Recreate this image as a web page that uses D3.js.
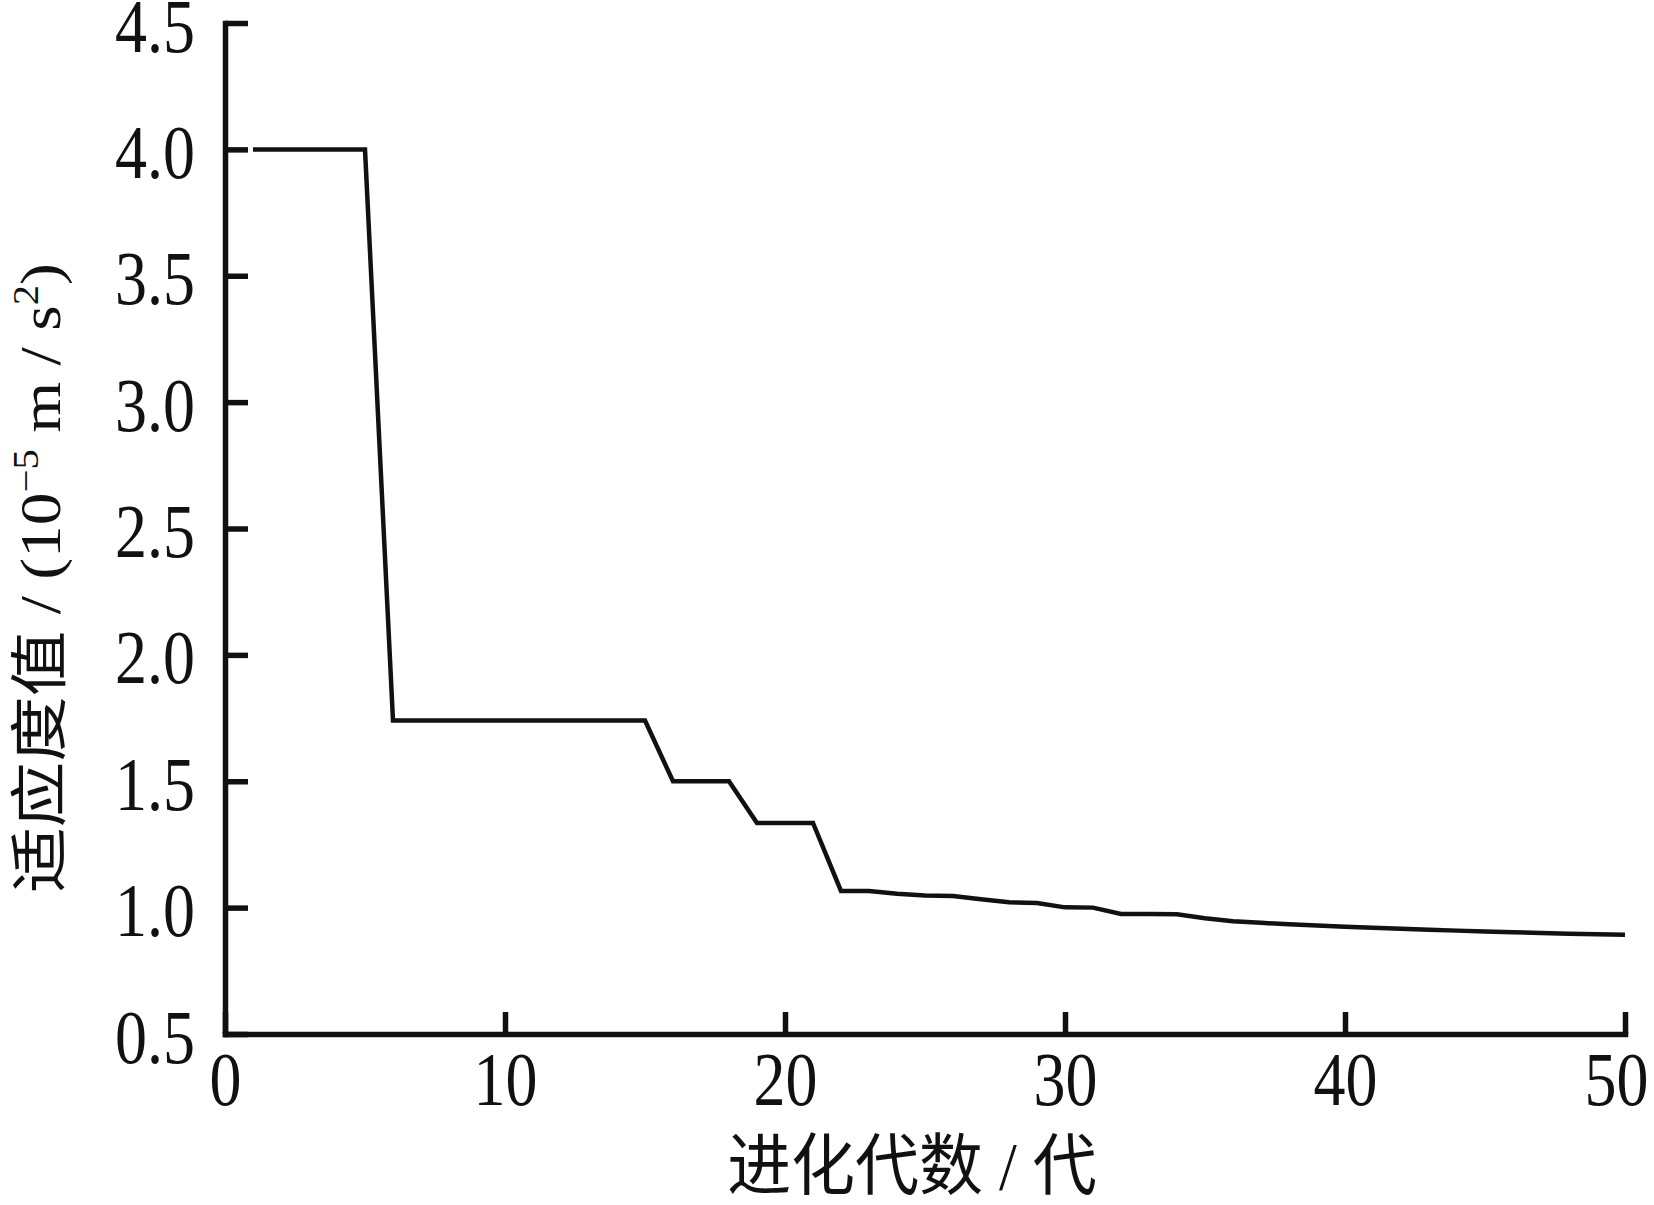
<!DOCTYPE html>
<html>
<head>
<meta charset="utf-8">
<script src="https://cdn.jsdelivr.net/npm/d3@7"></script>
<style>
  html, body { margin: 0; padding: 0; background: #fff; }
  svg { display: block; }
</style>
</head>
<body>
<svg id="chart" width="1654" height="1205"></svg>
<script>
// ---- data ----
const generations = [1,2,3,4,5,6,7,8,9,10,11,12,13,14,15,16,17,18,19,20,21,22,23,24,25,26,27,28,29,30,31,32,33,34,35,36,37,38,39,40,41,42,43,44,45,46,47,48,49,50];
const fitness = [4.0,4.0,4.0,4.0,4.0,
  1.74,1.74,1.74,1.74,1.74,1.74,1.74,1.74,1.74,1.74,
  1.50,1.50,1.50,
  1.335,1.335,1.335,
  1.066,1.066,1.055,1.048,1.046,1.033,1.021,1.018,1.001,1.0,
  0.975,0.975,0.974,0.958,0.946,0.94,0.934,0.929,0.924,0.92,
  0.916,0.912,0.909,0.906,0.903,0.9,0.897,0.895,0.893];
const xTicks = [0,10,20,30,40,50];
const yTicks = [0.5,1.0,1.5,2.0,2.5,3.0,3.5,4.0,4.5];
const xTitle = "进化代数 / 代";
const yTitleMain = "适应度值 / (10";
const yTitleExp1 = "−5";
const yTitleMid = " m / s";
const yTitleExp2 = "2";
const yTitleEnd = ")";

// ---- layout ----
(function () {
const svg = d3.select("#chart");
const plotL = 225, plotR = 1625, plotT = 23, plotB = 1034;
const x = d3.scaleLinear().domain([0, 50]).range([plotL, plotR]);
const y = d3.scaleLinear().domain([0.5, 4.5]).range([plotB, plotT]);
const serif = "'Liberation Serif','Times New Roman',serif";
const ink = "#111";
const stretch = 1.18; // glyphs in the reference are taller than wide

// data line
const line = d3.line().x((d, i) => x(generations[i])).y(d => y(d));
svg.append("path")
  .datum(fitness)
  .attr("d", line)
  .attr("fill", "none")
  .attr("stroke", ink)
  .attr("stroke-width", 4.5)
  .attr("stroke-linejoin", "miter");

// y axis
const gy = svg.append("g")
  .attr("transform", `translate(${plotL},0)`)
  .call(d3.axisLeft(y).tickValues(yTicks).tickFormat(d3.format(".1f"))
    .tickSizeInner(-23).tickSizeOuter(0).tickPadding(30));
// x axis
const gx = svg.append("g")
  .attr("transform", `translate(0,${plotB})`)
  .call(d3.axisBottom(x).tickValues(xTicks).tickFormat(d3.format("d"))
    .tickSizeInner(-22).tickSizeOuter(0).tickPadding(25));

[gy, gx].forEach(g => {
  g.select(".domain").attr("stroke", ink).attr("stroke-width", 5.5).attr("stroke-linecap", "square");
  g.selectAll(".tick line").attr("stroke", ink).attr("stroke-width", 5.5);
  g.selectAll(".tick text").attr("fill", ink)
    .style("font-family", serif).style("font-size", "64px")
    .attr("transform", `scale(1,${stretch})`);
});
gy.selectAll(".tick text").attr("dy", 28 / stretch);
gx.selectAll(".tick text").attr("y", 71 / stretch).attr("dy", 0)
  .attr("x", d => d === 50 ? -9 : 0);

// x title
svg.append("text")
  .attr("transform", "translate(912,1189) scale(1,1.05)")
  .attr("text-anchor", "middle")
  .style("font-family", "'Liberation Serif','Noto Sans CJK SC',serif")
  .style("font-size", "64px")
  .attr("fill", ink)
  .text(xTitle);

// y title
const yt = svg.append("text")
  .attr("transform", "translate(60,578) rotate(-90) scale(1.13,1)")
  .attr("text-anchor", "middle")
  .style("font-family", "'Liberation Serif','Noto Sans CJK SC',serif")
  .style("font-size", "58px")
  .attr("fill", ink);
yt.append("tspan").text(yTitleMain);
yt.append("tspan").attr("dy", -22).style("font-size", "36px").text(yTitleExp1);
yt.append("tspan").attr("dy", 22).text(yTitleMid);
yt.append("tspan").attr("dy", -22).style("font-size", "36px").text(yTitleExp2);
yt.append("tspan").attr("dy", 22).text(yTitleEnd);
})();
</script>
</body>
</html>
